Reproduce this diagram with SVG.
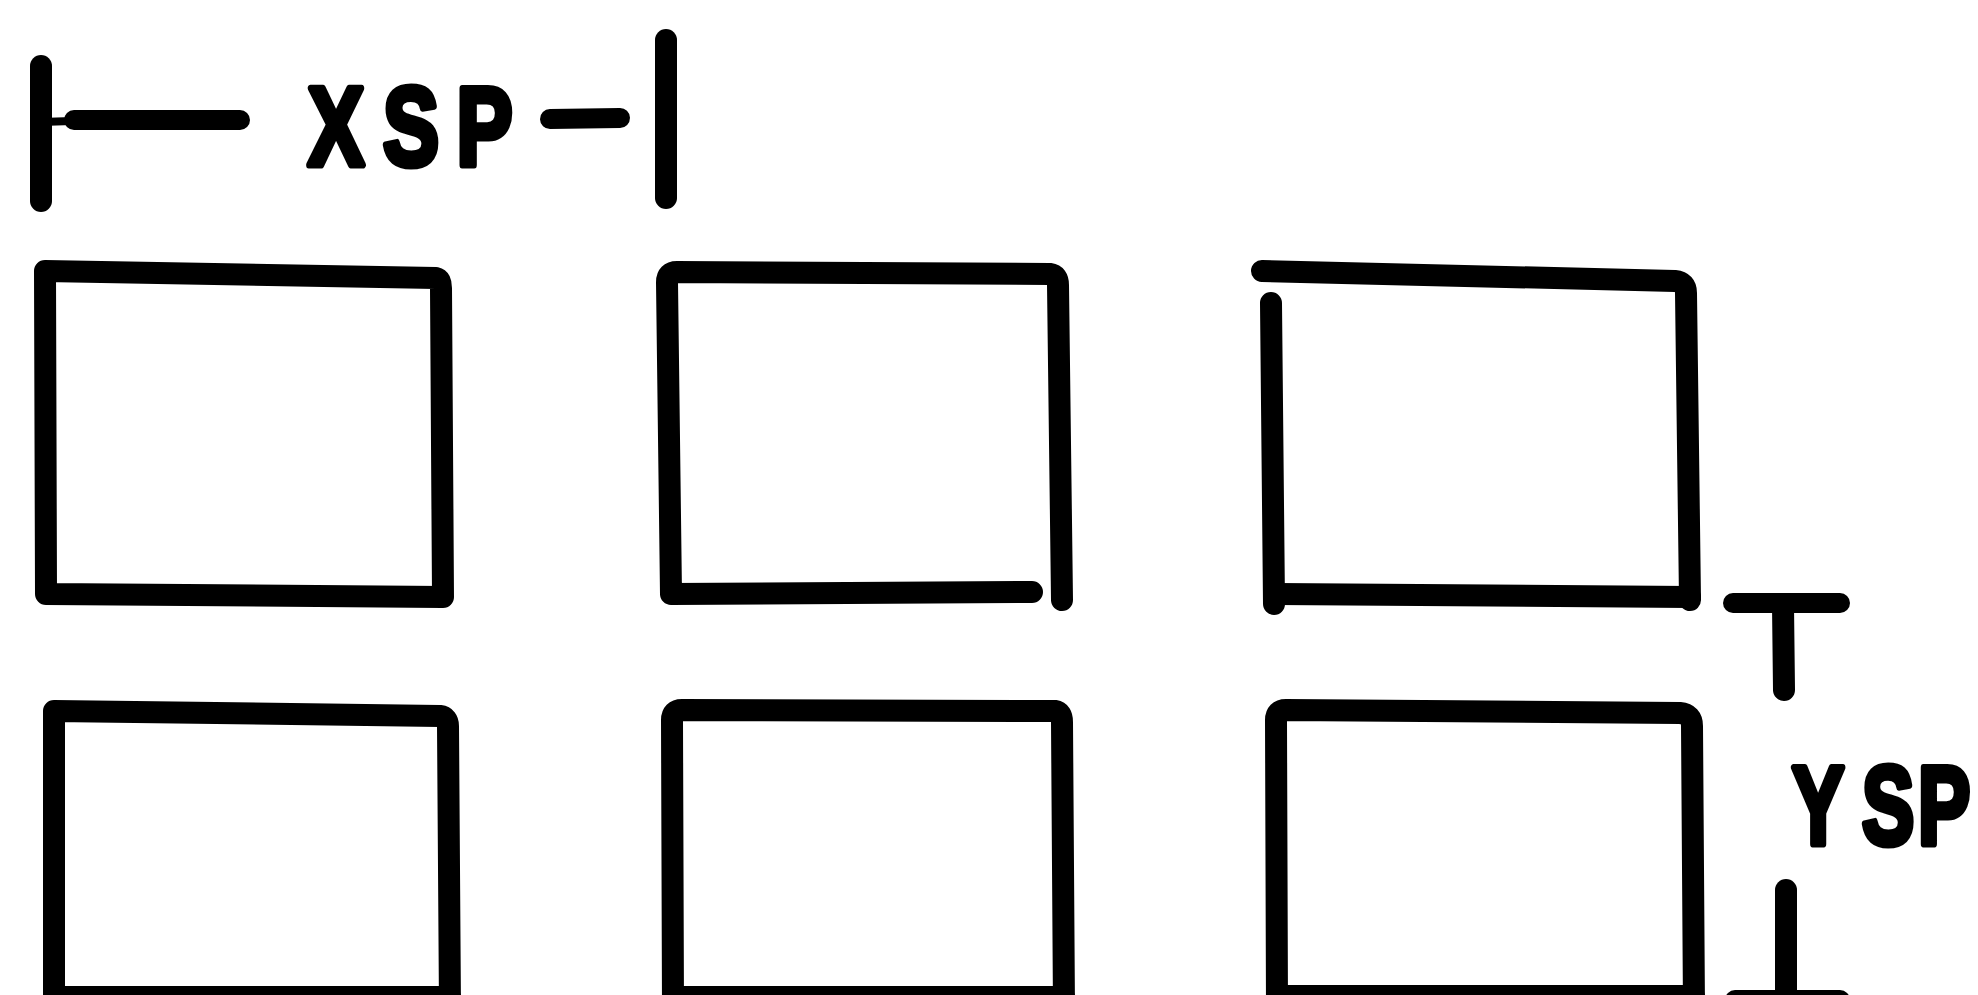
<svg xmlns="http://www.w3.org/2000/svg" width="1978" height="995" viewBox="0 0 1978 995">
  <style>
    .ink { fill: none; stroke: #000; stroke-width: 22; stroke-linecap: round; stroke-linejoin: round; }
    .thin { fill: none; stroke: #000; stroke-width: 20; stroke-linecap: round; stroke-linejoin: round; }
    .lbl { font-family: "Liberation Sans", Arial, sans-serif; font-weight: bold; font-size: 112px; fill: #000; stroke: #000; stroke-width: 7; stroke-linejoin: round; }
  </style>
  <rect width="1978" height="995" fill="#fff"/>

  <g id="cell-r1c1">
    <path class="ink" d="M45,271 L436,278 Q441,279 441,288 L443,597 L46,594 Z"/>
  </g>
  <g id="cell-r1c2">
    <path class="ink" d="M1032,592 L671,594 L667,282 Q667,272 677,272 L1050,274 Q1058,275 1058,285 L1062,600"/>
  </g>
  <g id="cell-r1c3">
    <path class="ink" d="M1262,271 L1675,281 Q1686,282 1686,293 L1690,600"/>
    <path class="ink" d="M1271,303 L1274,604"/>
    <path class="ink" d="M1276,594 L1690,597"/>
  </g>

  <g id="cell-r2c1">
    <path class="ink" d="M54,1010 L54,711 L440,716 Q448,717 448,726 L450,1010"/>
    <path class="ink" d="M54,997 L450,997"/>
  </g>
  <g id="cell-r2c2">
    <path class="ink" d="M673,1010 L672,720 Q672,710 682,710 L1055,711 Q1062,712 1062,722 L1064,1010"/>
    <path class="ink" d="M673,997 L1064,997"/>
  </g>
  <g id="cell-r2c3">
    <path class="ink" d="M1277,1010 L1276,720 Q1276,710 1286,710 L1680,713 Q1692,714 1692,726 L1694,1010"/>
    <path class="ink" d="M1277,996 L1694,996"/>
  </g>

  <g id="connectors">
    <!-- XSP dimension -->
    <path class="ink" d="M41,66 L41,201"/>
    <path class="thin" d="M41,122 L72,121" style="stroke-width:8"/>
    <path class="thin" d="M74,120 L240,120"/>
    <path class="thin" d="M550,119 L620,118"/>
    <path class="ink" d="M666,40 L666,198"/>
    <!-- YSP dimension -->
    <path class="thin" d="M1733,603 L1840,603"/>
    <path class="ink" d="M1783,605 L1784,690"/>
    <path class="ink" d="M1786,890 L1786,995"/>
    <path class="thin" d="M1735,1000 L1840,1000"/>
  </g>

  <g id="labels">
    <text class="lbl" transform="translate(308,165) scale(0.75,1)" x="0 100 198">XSP</text>
    <text class="lbl" transform="translate(1792,844) scale(0.7,1)" x="0 100 180">YSP</text>
  </g>
</svg>
